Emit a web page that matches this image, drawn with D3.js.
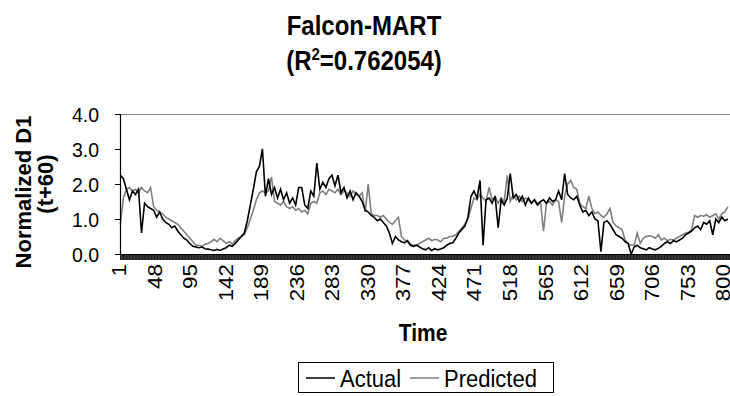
<!DOCTYPE html>
<html>
<head>
<meta charset="utf-8">
<script src="https://cdn.jsdelivr.net/npm/d3@7"></script>
<style>
  body { margin: 0; background: #fff; }
  svg text { font-family: "Liberation Sans", Arial, sans-serif; fill: #000; }
</style>
</head>
<body>
<svg id="chart" width="730" height="396"></svg>
<script>
// 1 data (one value every 4 time steps, starting at t=1)
const timeStart = 1;
const timeStep = 4;

const actual = [
  2.25, 2.15, 1.85, 1.55, 1.80, 1.70, 1.85, 0.60, 1.45, 1.35,
  1.30, 1.25, 1.05, 1.20, 1.00, 0.90, 0.85, 0.75, 0.80, 0.65,
  0.55, 0.45, 0.40, 0.30, 0.22, 0.20, 0.18, 0.20, 0.15, 0.14,
  0.12, 0.10, 0.13, 0.10, 0.14, 0.18, 0.25, 0.22, 0.30, 0.40,
  0.50, 0.60, 0.95, 1.40, 1.85, 2.35, 2.50, 3.00, 1.65, 2.15,
  1.70, 1.90, 1.60, 1.85, 1.55, 1.75, 1.45, 1.60, 1.40, 1.90,
  1.90, 1.40, 1.30, 1.80, 1.65, 2.60, 1.85, 2.05, 1.90, 2.15,
  2.25, 1.95, 2.25, 1.75, 1.90, 1.60, 1.80, 1.55, 1.75, 1.65,
  1.50, 1.25, 1.20, 1.10, 1.05, 0.95, 1.00, 0.90, 0.80, 0.60,
  0.30, 0.50, 0.40, 0.35, 0.32, 0.38, 0.25, 0.22, 0.25, 0.20,
  0.15, 0.12, 0.18, 0.10, 0.15, 0.12, 0.14, 0.18, 0.25, 0.30,
  0.32, 0.45, 0.60, 0.70, 0.80, 1.05, 1.65, 1.80, 1.60, 2.10,
  0.25, 1.55, 1.60, 1.45, 1.65, 0.75, 1.55, 1.40, 1.60, 2.30,
  1.60, 1.70, 1.50, 1.65, 1.40, 1.60, 1.45, 1.55, 1.40, 1.50,
  1.55, 1.45, 1.60, 1.50, 1.55, 1.80, 1.55, 2.30, 1.70, 1.60,
  1.55, 1.65, 1.40, 1.20, 1.25, 1.10, 1.20, 1.00, 0.95, 0.07,
  0.90, 0.95, 0.85, 0.70, 0.55, 0.50, 0.45, 0.35, 0.30, 0.00,
  0.20, 0.25, 0.18, 0.15, 0.12, 0.18, 0.14, 0.12, 0.16, 0.22,
  0.30, 0.35, 0.30, 0.38, 0.35, 0.40, 0.45, 0.55, 0.60, 0.65,
  0.75, 0.80, 0.70, 0.90, 0.85, 0.95, 0.55, 1.00, 0.90, 1.05,
  0.95, 1.00
];

const predicted = [
  0.85, 1.60, 1.85, 1.90, 1.80, 1.85, 1.75, 1.90, 1.80, 1.75,
  1.90, 1.35, 1.25, 1.20, 1.15, 1.05, 1.00, 0.95, 0.90, 0.85,
  0.75, 0.65, 0.55, 0.45, 0.35, 0.25, 0.25, 0.22, 0.28, 0.30,
  0.35, 0.42, 0.35, 0.45, 0.38, 0.30, 0.35, 0.28, 0.38, 0.45,
  0.50, 0.55, 0.75, 1.00, 1.25, 1.55, 1.75, 1.80, 1.75, 1.80,
  2.20, 1.50, 1.45, 1.40, 1.50, 1.35, 1.30, 1.35, 1.25, 1.30,
  1.20, 1.25, 1.15, 1.45, 1.50, 1.45, 1.75, 1.80, 1.70, 1.85,
  1.80, 1.75, 1.85, 1.70, 1.80, 1.75, 1.65, 1.80, 1.70, 1.65,
  1.75, 1.20, 2.00, 1.15, 1.10, 1.10, 1.05, 1.10, 1.00, 0.90,
  0.85, 0.95, 1.05, 0.50, 0.40, 0.35, 0.28, 0.25, 0.25, 0.30,
  0.35, 0.40, 0.45, 0.38, 0.42, 0.40, 0.35, 0.45, 0.45, 0.50,
  0.50, 0.55, 0.65, 0.75, 0.85, 1.00, 1.30, 1.60, 1.55, 1.70,
  1.60, 1.50, 1.90, 1.55, 1.65, 1.45, 1.60, 1.50, 2.25, 1.50,
  1.70, 1.55, 1.65, 1.50, 1.60, 1.55, 1.45, 1.55, 1.45, 1.50,
  0.65, 1.45, 1.50, 1.40, 1.55, 1.50, 0.90, 1.65, 2.00, 2.10,
  1.90, 1.85, 1.45, 1.35, 1.30, 1.65, 1.30, 1.15, 1.20, 1.10,
  1.05, 1.15, 1.30, 0.90, 0.80, 0.75, 0.70, 0.40, 0.30, 0.25,
  0.25, 0.60, 0.30, 0.45, 0.50, 0.52, 0.50, 0.45, 0.55, 0.40,
  0.45, 0.38, 0.42, 0.40, 0.45, 0.50, 0.55, 0.60, 0.62, 0.70,
  1.10, 1.05, 1.10, 1.08, 1.12, 1.05, 1.10, 1.15, 1.00, 1.15,
  1.20, 1.35
];

const xTickLabels = [1, 48, 95, 142, 189, 236, 283, 330, 377, 424, 471, 518, 565, 612, 659, 706, 753, 800];
const yTicks = [0, 1, 2, 3, 4];
const categoryCount = 808;

// 2 layout
const width = 730;
const height = 396;
const plotLeft = 120;
const plotRight = 730.5;
const plotTop = 114;
const plotBottom = 254;
const tall = 1.12; // the picture's text is a little taller than the font's own shape

const svg = d3.select('#chart');

const xScale = d3.scaleLinear().domain([0.5, categoryCount + 0.5]).range([plotLeft, plotRight]);
const yScale = d3.scaleLinear().domain([0, 4]).range([plotBottom, plotTop]);

// plot border (top edge only shows)
svg.append('line')
  .attr('x1', plotLeft).attr('x2', width)
  .attr('y1', plotTop + 0.5).attr('y2', plotTop + 0.5)
  .attr('stroke', '#888').attr('stroke-width', 1);

// 3 lines
const toPoints = (values) => values.map((v, i) => ({ t: timeStart + i * timeStep, v }));

const line = d3.line()
  .x((d) => xScale(d.t))
  .y((d) => yScale(d.v));

svg.append('path')
  .attr('d', line(toPoints(predicted)))
  .attr('fill', 'none')
  .attr('stroke', '#808080')
  .attr('stroke-width', 1.6);

svg.append('path')
  .attr('d', line(toPoints(actual)))
  .attr('fill', 'none')
  .attr('stroke', '#000')
  .attr('stroke-width', 1.6);

// 4 axes
const yAxis = svg.append('g')
  .attr('transform', `translate(${plotLeft},0)`)
  .call(d3.axisLeft(yScale).tickValues(yTicks).tickSize(5).tickPadding(16)
    .tickFormat(d3.format('.1f')));
yAxis.select('.domain').attr('stroke', '#000').attr('stroke-width', 1.2);
yAxis.selectAll('.tick text')
  .style('font-size', '19.5px')
  .style('font-family', '"Liberation Sans", Arial, sans-serif')
  .attr('dy', '0.36em');

// one tick per time step, drawn at category edges
const edges = d3.range(0.5, categoryCount + 1, 1);
const xAxis = svg.append('g')
  .attr('transform', `translate(0,${plotBottom})`)
  .call(d3.axisBottom(xScale).tickValues(edges).tickSize(6).tickFormat('').tickSizeOuter(0));
xAxis.select('.domain').attr('stroke', '#000').attr('stroke-width', 1.2);
xAxis.selectAll('.tick line').attr('stroke', '#000').attr('stroke-width', 0.85);

const xLabels = svg.append('g');
xLabels.selectAll('text')
  .data(xTickLabels)
  .join('text')
  .attr('transform', (d) => `translate(${xScale(d)},${plotBottom + 10}) scale(1,${tall}) rotate(-90)`)
  .attr('text-anchor', 'end')
  .attr('dy', '0.3em')
  .style('font-size', '20px')
  .text((d) => d);

// 5 titles
const title = svg.append('g')
  .attr('transform', `translate(364,0) scale(1,${tall})`)
  .style('font-weight', 'bold')
  .style('font-size', '24px');
title.append('text').attr('y', 35 / tall).attr('text-anchor', 'middle').text('Falcon-MART');
const sub = title.append('text').attr('y', 70 / tall).attr('text-anchor', 'middle');
sub.append('tspan').text('(R');
sub.append('tspan').attr('dy', -9).style('font-size', '15px').text('2');
sub.append('tspan').attr('dy', 9).text('=0.762054)');

const yTitle = svg.append('g')
  .style('font-weight', 'bold')
  .style('font-size', '22px');
yTitle.append('text')
  .attr('transform', 'translate(31,192) rotate(-90)')
  .attr('text-anchor', 'middle')
  .text('Normalized D1');
yTitle.append('text')
  .attr('transform', 'translate(53,184) rotate(-90)')
  .attr('text-anchor', 'middle')
  .text('(t+60)');

svg.append('text')
  .attr('transform', `translate(423,341) scale(1,${tall})`)
  .attr('text-anchor', 'middle')
  .style('font-weight', 'bold')
  .style('font-size', '21px')
  .text('Time');

// 6 legend
const legend = svg.append('g').attr('transform', 'translate(298,362)');
legend.append('rect')
  .attr('x', 0.5).attr('y', 0.5)
  .attr('width', 255).attr('height', 30)
  .attr('fill', '#fff').attr('stroke', '#000');

const legendItems = [
  { name: 'Actual', color: '#000', x: 8 },
  { name: 'Predicted', color: '#808080', x: 112 },
];
const item = legend.selectAll('.item')
  .data(legendItems)
  .join('g')
  .attr('transform', (d) => `translate(${d.x},16)`);
item.append('line')
  .attr('x1', 0).attr('x2', 29)
  .attr('stroke', (d) => d.color).attr('stroke-width', 1.5);
item.append('text')
  .attr('transform', `translate(34,0) scale(1,${tall})`)
  .attr('dy', '0.36em')
  .style('font-size', '22px')
  .text((d) => d.name);
</script>
</body>
</html>
